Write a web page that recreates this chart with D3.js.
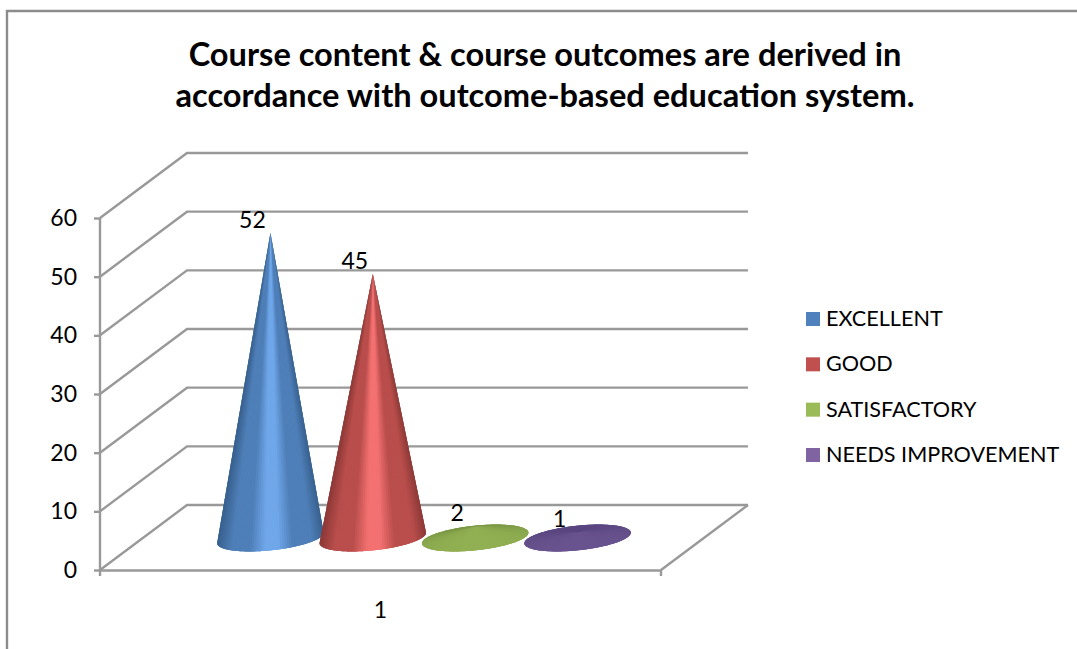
<!DOCTYPE html>
<html>
<head>
<meta charset="utf-8">
<script src="https://cdn.jsdelivr.net/npm/d3@7"></script>
<style>
html,body{margin:0;padding:0;background:#fff;overflow:hidden;}
text{font-family:Lato,"Noto Sans",sans-serif;fill:#000;}
</style>
</head>
<body>
<svg id="chart" width="1077" height="649"></svg>
<script>
//data
var titleLines=["Course content & course outcomes are derived in","accordance with outcome-based education system."];
var seriesNames=["EXCELLENT","GOOD","SATISFACTORY","NEEDS IMPROVEMENT"];
var seriesValues=[52,45,2,1];
var categories=["1"];
var yTicks=[0,10,20,30,40,50,60];
var seriesColors=["#4f81bd","#c0504d","#9bbb59","#8064a2"];
//colours across a cone: edge, mid, highlight
var coneEdge=["#38618f","#8e3a38","#6f8a3c","#54407a"];
var coneMid=["#4f7fb8","#b94e4c","#8aa84e","#65508a"];
var coneLight=["#6fa7ea","#f47171","#96b556","#6c5592"];

var svg=d3.select("#chart");
var grid="#999999";

//plot box and 3d depth offset
var left=100,right=661,bottom=570,top60=218,depthX=87,depthY=65;

var y=d3.scaleLinear().domain([0,60]).range([bottom,top60]);
var x=d3.scaleBand().domain(seriesNames)
    .range([left+depthX/2,right+depthX/2])
    .paddingInner(0).paddingOuter(0.74);
var baseY=bottom-depthY/2+0.5;
var rx=53.5,ry=12.3,tilt=-6*Math.PI/180;

//frame
svg.append("path")
    .attr("d","M7,649V11H1077")
    .attr("fill","none")
    .attr("stroke","#8c8c8c")
    .attr("stroke-width",2.4);

//title
svg.append("g").selectAll("text")
    .data(titleLines)
    .enter().append("text")
    .attr("x",545)
    .attr("y",function(d,i){return 66+i*41;})
    .attr("text-anchor","middle")
    .attr("font-size",32.6)
    .attr("font-weight",700)
    .text(function(d){return d;});

//walls and floor
var walls=svg.append("g")
    .attr("fill","none")
    .attr("stroke",grid)
    .attr("stroke-width",2.4);
walls.selectAll(".wall")
    .data(yTicks)
    .enter().append("path")
    .attr("class","wall")
    .attr("d",function(d){
      return "M"+left+","+y(d)+"L"+(left+depthX)+","+(y(d)-depthY)+"H"+(right+depthX);
    });
walls.append("path")
    .attr("d","M"+right+","+bottom+"L"+(right+depthX)+","+(bottom-depthY));

//axes
function customYAxis(g){
  g.call(d3.axisLeft(y).tickValues(yTicks).tickSize(6).tickPadding(17));
  g.selectAll("line,path").attr("stroke",grid).attr("stroke-width",2.4);
  g.select(".domain").attr("d","M0,"+(bottom+6)+"V"+top60);
  g.selectAll("text").attr("font-size",23);
  g.attr("font-family",null);
}
svg.append("g")
    .attr("transform","translate("+left+",0)")
    .call(customYAxis);

var xCat=d3.scaleBand().domain(categories).range([left,right]);
function customXAxis(g){
  g.call(d3.axisBottom(xCat).tickSize(0).tickPadding(32));
  g.select(".domain").attr("d","M"+left+",0.5H"+right+"V6").attr("stroke",grid).attr("stroke-width",2.4);
  g.selectAll("text").attr("font-size",23);
  g.attr("font-family",null);
}
svg.append("g")
    .attr("transform","translate(0,"+bottom+")")
    .call(customXAxis);

//ellipse point at angle th, rotated by tilt
function ePoint(cx,th){
  var ex=rx*Math.cos(th),ey=ry*Math.sin(th);
  return [cx+ex*Math.cos(tilt)-ey*Math.sin(tilt),baseY+ex*Math.sin(tilt)+ey*Math.cos(tilt)];
}

//angles where the lines from the apex touch the base ellipse, null if apex is inside
function tangents(cx,ay){
  var dy=ay-baseY;
  var px=dy*Math.sin(tilt)/rx;
  var py=dy*Math.cos(tilt)/ry;
  var r=Math.sqrt(px*px+py*py);
  if(r<=1) return null;
  var a=Math.atan2(py,px),b=Math.acos(1/r);
  return [a+b,a-b+2*Math.PI];
}

//one slice, it runs over the next one so no seams show
function slice(g,cx,ay,th0,th2,col){
  var pts=[[cx,ay]];
  for(var j=0;j<=4;j++){
    pts.push(ePoint(cx,th0+(th2-th0)*j/4));
  }
  g.append("path")
      .attr("d",d3.line()(pts)+"Z")
      .attr("fill",col);
}

var cones=svg.append("g");

seriesNames.forEach(function(name,i){
  var cx=x(name)+x.bandwidth()/2;
  var ay=baseY-(y(0)-y(seriesValues[i]));
  var g=cones.append("g");
  var shade=d3.scaleLinear()
      .domain([0,0.13,0.3,0.44,0.56,0.7,0.88,1])
      .range([coneEdge[i],coneMid[i],coneMid[i],coneLight[i],coneLight[i],coneMid[i],coneMid[i],coneEdge[i]])
      .interpolate(d3.interpolateRgb);
  var t=tangents(cx,ay);
  var n=70,k,th0,th1,th2;
  if(t){
    //slices from the apex down to the front of the base
    for(k=0;k<n;k++){
      th0=t[0]+(t[1]-t[0])*k/n;
      th1=t[0]+(t[1]-t[0])*(k+1)/n;
      th2=t[0]+(t[1]-t[0])*Math.min(k+3,n)/n;
      slice(g,cx,ay,th0,th2,shade(1-(1-Math.cos((th0+th1)/2))/2));
    }
  }else{
    //nearly flat cone: apex sits inside the base
    for(k=0;k<n;k++){
      th0=2*Math.PI*k/n;
      th1=2*Math.PI*(k+1)/n;
      th2=2*Math.PI*(k+3)/n;
      var s=Math.sin((th0+th1)/2);
      var c=s<0?d3.interpolateRgb(coneMid[i],coneEdge[i])(-s*0.7):d3.interpolateRgb(coneMid[i],coneLight[i])(s*0.6);
      slice(g,cx,ay,th0,th2,c);
    }
  }
});

//data labels
svg.append("g").selectAll("text")
    .data(seriesValues)
    .enter().append("text")
    .attr("x",function(d,i){return x(seriesNames[i])+x.bandwidth()/2-18;})
    .attr("y",function(d){return baseY-(y(0)-y(d))-5;})
    .attr("text-anchor","middle")
    .attr("font-size",23)
    .text(function(d){return d;});

//legend
var legendY=d3.scalePoint().domain(seriesNames).range([319,455]);
var legend=svg.append("g").selectAll("g")
    .data(seriesNames)
    .enter().append("g")
    .attr("transform",function(d){return "translate(806,"+legendY(d)+")";});
legend.append("rect")
    .attr("y",-7)
    .attr("width",14)
    .attr("height",14)
    .attr("fill",function(d,i){return seriesColors[i];});
legend.append("text")
    .attr("x",20)
    .attr("y",7)
    .attr("font-size",21.6)
    .text(function(d){return d;});
</script>
</body>
</html>
